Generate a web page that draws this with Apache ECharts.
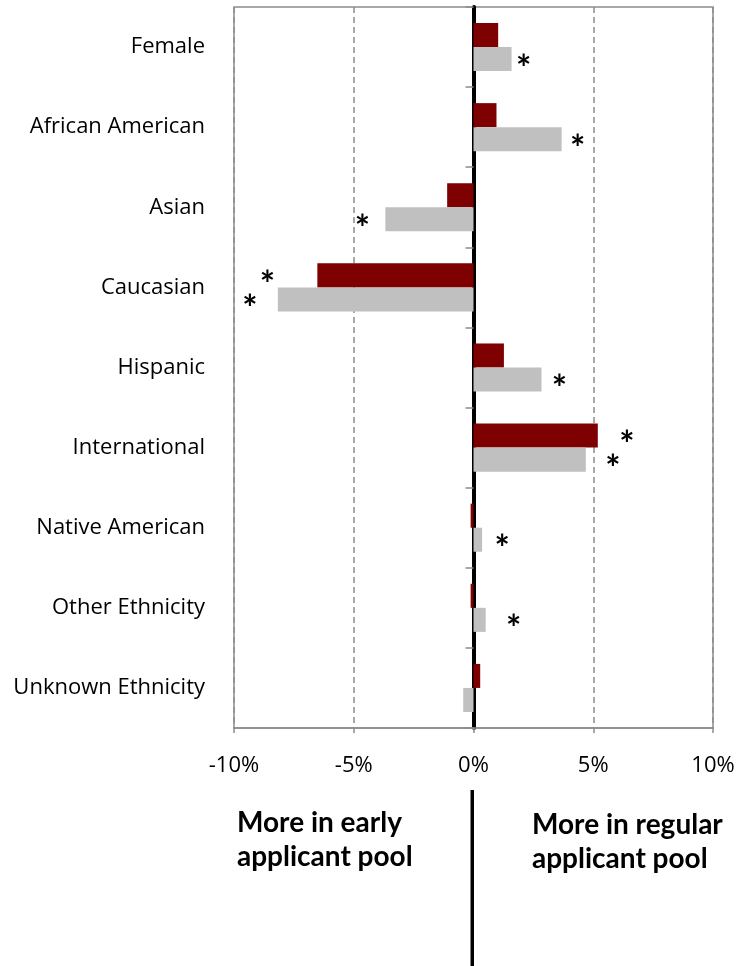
<!DOCTYPE html>
<html>
<head>
<meta charset="utf-8">
<script src="https://cdn.jsdelivr.net/npm/echarts@6/dist/echarts.min.js"></script>
<style>
  html, body { margin: 0; padding: 0; background: #ffffff; }
  #chart { width: 738px; height: 966px; }
</style>
</head>
<body>
<div id="chart"></div>
<script>
// Share differences (percentage points) between the two applicant pools
const categories = ['Female', 'African American', 'Asian', 'Caucasian', 'Hispanic',
  'International', 'Native American', 'Other Ethnicity', 'Unknown Ethnicity'];
const darkValues  = [1.03, 0.96, -1.1, -6.52, 1.27, 5.19, -0.12, -0.12, 0.28];
const lightValues = [1.59, 3.68, -3.68, -8.17, 2.84, 4.69, 0.36, 0.51, -0.43];
// Statistically significant differences are flagged with an asterisk
const darkSignificant  = [false, false, false, true, false, true, false, false, false];
const lightSignificant = [true, true, true, true, true, true, true, true, false];
const xTicks = [-10, -5, 0, 5, 10];

const FONT = '"Open Sans", Lato, sans-serif';
const BOLD_FONT = 'Lato, "Open Sans", sans-serif';
const DARK = '#7f0000';
const LIGHT = '#c0c0c0';
const GRID_GRAY = '#8c8c8c';

// spacing between a bar end and its asterisk
const darkStarGap  = [0, 0, 0, 50, 0, 29, 0, 0, 0];
const lightStarGap = [12, 16, 23, 28, 18, 27, 20, 28, 0];

function buildData(values, flags, gaps) {
  return values.map((v, i) => ({
    value: v,
    label: {
      show: flags[i],
      position: v >= 0 ? 'right' : 'left',
      distance: gaps[i],
      align: 'center',
      formatter: '*',
      fontFamily: BOLD_FONT,
      fontWeight: 'bold',
      fontSize: 36,
      color: '#000',
      offset: [0, 10]
    }
  }));
}

const chart = echarts.init(document.getElementById('chart'), null, { renderer: 'canvas' });

chart.setOption({
  animation: false,
  backgroundColor: '#ffffff',
  grid: {
    left: 234, right: 25, top: 7, bottom: 238,
    show: true, borderColor: GRID_GRAY, borderWidth: 1.5, backgroundColor: 'transparent'
  },
  xAxis: {
    type: 'value',
    min: xTicks[0], max: xTicks[xTicks.length - 1], interval: 5,
    axisLine: { show: true, onZero: false, lineStyle: { color: GRID_GRAY, width: 1.5 } },
    axisTick: { show: true, length: 5, lineStyle: { color: GRID_GRAY, width: 1.5 } },
    axisLabel: {
      margin: 27, fontFamily: FONT, fontSize: 22, color: '#000',
      formatter: v => v + '%'
    },
    splitLine: { show: true, lineStyle: { color: GRID_GRAY, width: 1.5, type: [6, 4] } }
  },
  yAxis: [
    {
      type: 'category',
      data: categories,
      inverse: true,
      position: 'left',
      axisLine: { show: false, onZero: false },
      axisTick: { show: false },
      axisLabel: { margin: 29, fontFamily: FONT, fontSize: 22, color: '#000' }
    },
    {
      type: 'category',
      data: categories,
      inverse: true,
      position: 'left',
      axisLine: { show: true, onZero: true, lineStyle: { color: '#000', width: 4 } },
      axisTick: { show: true, length: 8, lineStyle: { color: GRID_GRAY, width: 1.5 } },
      axisLabel: { show: false }
    }
  ],
  series: [
    {
      name: 'Dark',
      type: 'bar',
      yAxisIndex: 0,
      barGap: '0%',
      barCategoryGap: '40%',
      itemStyle: { color: DARK },
      data: buildData(darkValues, darkSignificant, darkStarGap),
      z: 1
    },
    {
      name: 'Light',
      type: 'bar',
      yAxisIndex: 0,
      barGap: '0%',
      barCategoryGap: '40%',
      itemStyle: { color: LIGHT },
      data: buildData(lightValues, lightSignificant, lightStarGap),
      z: 1
    }
  ],
  graphic: [
    {
      type: 'rect',
      shape: { x: 470.5, y: 790, width: 3.5, height: 176 },
      style: { fill: '#000' }
    },
    {
      type: 'text',
      left: 237, top: 806,
      style: {
        text: 'More in early\napplicant pool',
        font: 'bold 28px ' + BOLD_FONT,
        lineHeight: 34,
        fill: '#000'
      }
    },
    {
      type: 'text',
      left: 532, top: 808,
      style: {
        text: 'More in regular\napplicant pool',
        font: 'bold 28px ' + BOLD_FONT,
        lineHeight: 34,
        fill: '#000'
      }
    }
  ]
});
</script>
</body>
</html>
